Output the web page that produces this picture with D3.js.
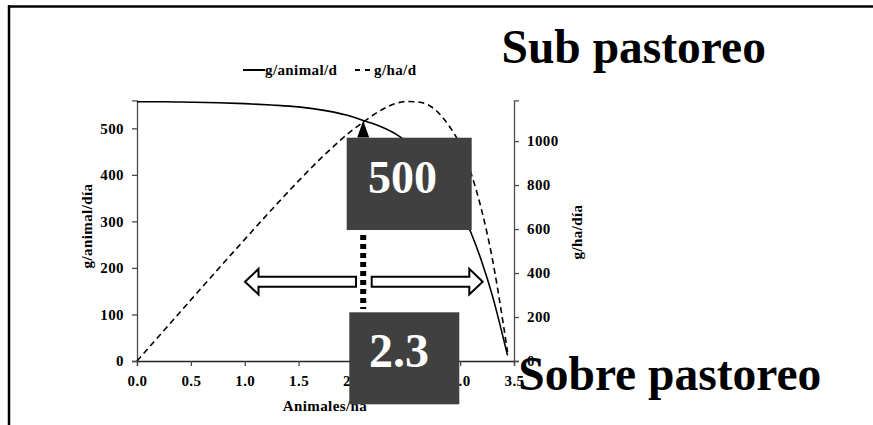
<!DOCTYPE html>
<html><head><meta charset="utf-8">
<script src="https://cdn.jsdelivr.net/npm/d3@7"></script>
<style>
html,body{margin:0;padding:0;background:#fff;}
svg{display:block;font-family:"Liberation Serif","Times New Roman",serif;font-weight:bold;}
</style></head>
<body><svg id="c" width="873" height="425"></svg>
<script>
const stockingRate = [0, 0.25, 0.5, 0.75, 1.0, 1.25, 1.5, 1.75, 2.0, 2.1, 2.25, 2.4, 2.5, 2.6, 2.75, 2.9, 3.0, 3.1, 3.2, 3.3, 3.4, 3.44];
const gAnimalDay   = [557, 557, 556, 555, 553, 550, 546, 538, 525, 517, 505, 488, 472, 453, 418, 368, 328, 276, 214, 140, 50, 12];
const gHaDay       = [0, 139, 278, 416, 553, 688, 819, 942, 1050, 1086, 1136, 1171, 1180, 1178, 1150, 1067, 984, 856, 685, 462, 170, 41];
const xTicks = [0, 0.5, 1.0, 1.5, 2.0, 2.5, 3.0, 3.5];
const leftTicks = [0, 100, 200, 300, 400, 500];
const rightTicks = [0, 200, 400, 600, 800, 1000];
const seriesNames = ["g/animal/d", "g/ha/d"];
const optimumX = 2.1, optimumY = 517;
const labelTop = "500", labelBottom = "2.3";

const svg = d3.select("#c");
const x = d3.scaleLinear().domain([0, 3.5]).range([137, 514]);
const yL = d3.scaleLinear().domain([0, 560]).range([361, 100.4]);
const yR = d3.scaleLinear().domain([0, 1185]).range([361, 100.4]);
const axisCol = "#4a4a4a";

// frame
svg.append("line").attr("x1", 8).attr("x2", 873).attr("y1", 6.5).attr("y2", 6.5).attr("stroke", "#000").attr("stroke-width", 2.5);
svg.append("line").attr("x1", 9).attr("x2", 9).attr("y1", 5.3).attr("y2", 425).attr("stroke", "#000").attr("stroke-width", 2.5);

function styleAxis(g) {
  g.selectAll(".domain").attr("stroke", axisCol).attr("stroke-width", 1.3);
  g.selectAll(".tick line").attr("stroke", axisCol).attr("stroke-width", 1.3);
  g.selectAll("text").attr("fill", "#000").attr("font-family", "Liberation Serif, serif").attr("font-weight", "bold")
    .attr("font-size", "15px").attr("letter-spacing", "0.4px");
}
const gL = svg.append("g").attr("transform", "translate(137,0)")
  .call(d3.axisLeft(yL).tickValues(leftTicks).tickFormat(d3.format("d")).tickSizeOuter(0).tickSize(5).tickPadding(8));
styleAxis(gL);
const gR = svg.append("g").attr("transform", "translate(514,0)")
  .call(d3.axisRight(yR).tickValues(rightTicks).tickFormat(d3.format("d")).tickSizeOuter(0).tickSize(5).tickPadding(8));
styleAxis(gR);
const gX = svg.append("g").attr("transform", "translate(0,361)")
  .call(d3.axisBottom(x).tickValues(xTicks).tickFormat(d3.format(".1f")).tickSizeOuter(0).tickSize(5).tickPadding(9));
styleAxis(gX);
gX.select(".domain").attr("stroke", "#222");

// axis titles
svg.append("text").attr("transform", "translate(92,226) rotate(-90)").attr("text-anchor", "middle")
  .attr("font-size", 15).attr("letter-spacing", "0.4px").text("g/animal/día");
svg.append("text").attr("transform", "translate(582,232) rotate(-90)").attr("text-anchor", "middle")
  .attr("font-size", 15).attr("letter-spacing", "0.4px").text("g/ha/día");
svg.append("text").attr("x", 325).attr("y", 411).attr("text-anchor", "middle")
  .attr("font-size", 15).attr("letter-spacing", "0.4px").text("Animales/ha");

// lines
const data = stockingRate.map((s, i) => ({s, a: gAnimalDay[i], h: gHaDay[i]}));
svg.append("path").datum(data).attr("fill", "none").attr("stroke", "#000").attr("stroke-width", 1.6)
  .attr("d", d3.line().x(d => x(d.s)).y(d => yL(d.a)).curve(d3.curveMonotoneX));
svg.append("path").datum(data).attr("fill", "none").attr("stroke", "#000").attr("stroke-width", 1.6)
  .attr("stroke-dasharray", "6,4")
  .attr("d", d3.line().x(d => x(d.s)).y(d => yR(d.h)).curve(d3.curveMonotoneX));

// legend
svg.append("line").attr("x1", 243).attr("x2", 265).attr("y1", 70).attr("y2", 70).attr("stroke", "#000").attr("stroke-width", 2);
svg.append("text").attr("x", 265).attr("y", 74.5).attr("font-size", 15).attr("letter-spacing", "0.4px").text(seriesNames[0]);
svg.append("line").attr("x1", 355).attr("x2", 372).attr("y1", 70).attr("y2", 70).attr("stroke", "#000").attr("stroke-width", 2)
  .attr("stroke-dasharray", "5,5");
svg.append("text").attr("x", 374).attr("y", 74.5).attr("font-size", 15).attr("letter-spacing", "0.4px").text(seriesNames[1]);

// block arrows
const cy = 281.7;
function blockArrow(tipX, backX, endX) {
  const p = d3.path();
  p.moveTo(tipX, cy);
  p.lineTo(backX, cy - 12.8);
  p.lineTo(backX, cy - 5);
  p.lineTo(endX, cy - 5);
  p.lineTo(endX, cy + 5);
  p.lineTo(backX, cy + 5);
  p.lineTo(backX, cy + 12.8);
  p.closePath();
  svg.append("path").attr("d", p.toString()).attr("fill", "#fff").attr("stroke", "#000").attr("stroke-width", 2).attr("stroke-linejoin", "miter");
}
blockArrow(245, 258.5, 356);
blockArrow(482.7, 469.3, 371.7);

// dotted vertical + arrowhead
const ox = x(optimumX);
svg.append("line").attr("x1", ox).attr("x2", ox).attr("y1", 235).attr("y2", 309).attr("stroke", "#000")
  .attr("stroke-width", 6).attr("stroke-dasharray", "5,4");
const tipY = yL(optimumY);
svg.append("path").attr("d", `M${ox},${tipY} L${ox - 6},${tipY + 17} L${ox + 6},${tipY + 17} Z`).attr("fill", "#000");

// boxes
svg.append("rect").attr("x", 346.7).attr("y", 137.7).attr("width", 125).attr("height", 92.3).attr("fill", "#404040");
svg.append("text").attr("x", 402.5).attr("y", 193.3).attr("text-anchor", "middle").attr("fill", "#fff")
  .attr("font-size", 46).text(labelTop);
svg.append("rect").attr("x", 349.3).attr("y", 312.3).attr("width", 110).attr("height", 92).attr("fill", "#404040");
svg.append("text").attr("x", 399).attr("y", 366.7).attr("text-anchor", "middle").attr("fill", "#fff")
  .attr("font-size", 48).text(labelBottom);

// big labels
svg.append("text").attr("x", 501.5).attr("y", 63.3).attr("font-size", 47.5).text("Sub pastoreo");
svg.append("text").attr("x", 518.3).attr("y", 390).attr("font-size", 47.5).text("Sobre pastoreo");
</script></body></html>
